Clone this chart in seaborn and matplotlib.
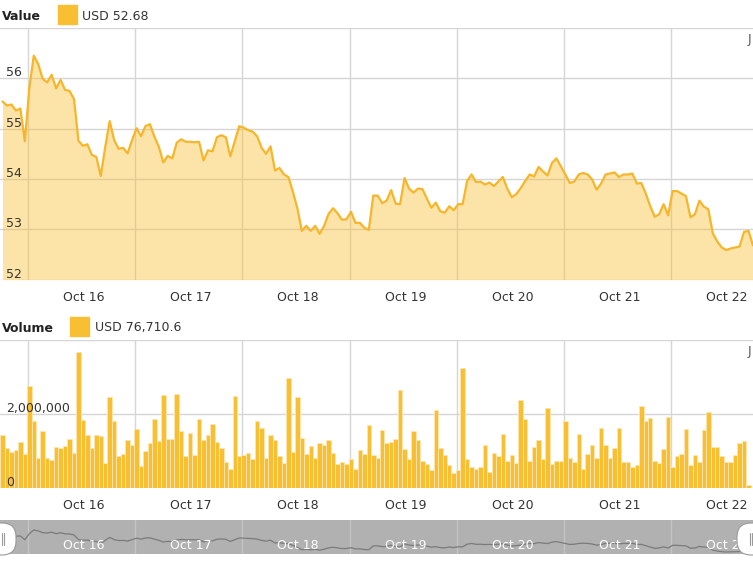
import numpy as np
import pandas as pd
import matplotlib
matplotlib.use('Agg')
import matplotlib.pyplot as plt
import matplotlib.transforms as mtransforms
from matplotlib.patches import Rectangle, FancyBboxPatch
import seaborn as sns

sns.set_style('white')
plt.rcParams['font.family'] = ['DejaVu Sans']

# hourly series, x measured in hours from Oct 16 00:00
start_hour = -5.7
price = [
    55.54, 55.46, 55.48, 55.36, 55.40, 54.75, 55.80, 56.45, 56.28, 55.99,
    55.92, 56.07, 55.80, 55.97, 55.77, 55.75, 55.59, 54.76, 54.66, 54.69,
    54.48, 54.44, 54.06, 54.64, 55.15, 54.77, 54.60, 54.62, 54.51, 54.77,
    55.01, 54.85, 55.05, 55.09, 54.84, 54.64, 54.33, 54.46, 54.41, 54.72,
    54.79, 54.74, 54.74, 54.73, 54.74, 54.37, 54.57, 54.55, 54.83, 54.87,
    54.83, 54.45, 54.75, 55.05, 55.02, 54.97, 54.94, 54.85, 54.62, 54.50,
    54.65, 54.17, 54.22, 54.09, 54.04, 53.75, 53.42, 52.97, 53.07, 52.97,
    53.07, 52.91, 53.07, 53.31, 53.42, 53.32, 53.19, 53.20, 53.35, 53.13,
    53.13, 53.03, 52.99, 53.67, 53.67, 53.52, 53.57, 53.78, 53.51, 53.50,
    54.02, 53.81, 53.73, 53.81, 53.80, 53.61, 53.43, 53.53, 53.36, 53.33,
    53.46, 53.38, 53.50, 53.50, 53.96, 54.09, 53.94, 53.95, 53.89, 53.93,
    53.86, 53.95, 54.04, 53.81, 53.64, 53.70, 53.82, 53.96, 54.09, 54.05,
    54.24, 54.15, 54.07, 54.32, 54.41, 54.25, 54.09, 53.92, 53.95, 54.09,
    54.12, 54.09, 53.99, 53.79, 53.91, 54.09, 54.11, 54.13, 54.04, 54.09,
    54.09, 54.11, 53.91, 53.92, 53.71, 53.46, 53.25, 53.30, 53.50, 53.28,
    53.76, 53.76, 53.71, 53.66, 53.24, 53.30, 53.57, 53.45, 53.40, 52.92,
    52.76, 52.64, 52.59, 52.62, 52.64, 52.66, 52.95, 52.97, 52.68,
]
volume_m = [
    1.42, 1.07, 0.98, 1.01, 1.25, 0.92, 2.75, 1.80, 0.80, 1.53,
    0.80, 0.76, 1.10, 1.07, 1.13, 1.31, 0.95, 3.67, 1.84, 1.44,
    1.07, 1.44, 1.41, 0.68, 2.45, 1.80, 0.86, 0.92, 1.29, 1.17,
    1.59, 0.58, 1.00, 1.22, 1.86, 1.28, 2.51, 1.31, 1.31, 2.53,
    1.53, 0.86, 1.48, 0.89, 1.87, 1.29, 1.44, 1.72, 1.25, 1.07,
    0.71, 0.52, 2.48, 0.86, 0.90, 0.95, 0.77, 1.81, 1.62, 0.80,
    1.42, 1.29, 0.86, 0.68, 2.97, 0.98, 2.45, 1.35, 0.92, 1.14,
    0.80, 1.22, 1.17, 1.29, 0.95, 0.64, 0.71, 0.64, 0.77, 0.52,
    1.01, 0.92, 1.69, 0.89, 0.81, 1.56, 1.22, 1.25, 1.31, 2.66,
    1.04, 0.77, 1.53, 1.29, 0.73, 0.64, 0.49, 2.11, 1.07, 0.89,
    0.62, 0.40, 0.49, 3.24, 0.77, 0.55, 0.52, 0.55, 1.17, 0.43,
    0.95, 0.86, 1.47, 0.73, 0.89, 0.68, 2.38, 1.86, 0.73, 1.10,
    1.29, 0.77, 2.17, 0.64, 0.73, 0.73, 1.80, 0.80, 0.71, 1.47,
    0.52, 0.92, 1.17, 0.80, 1.62, 1.17, 0.80, 1.07, 1.62, 0.71,
    0.71, 0.55, 0.62, 2.23, 1.80, 1.89, 0.73, 0.68, 1.04, 1.93,
    0.55, 0.86, 0.92, 1.58, 0.62, 0.89, 0.71, 1.56, 2.05, 1.10,
    1.10, 0.86, 0.71, 0.71, 0.89, 1.22, 1.26, 0.0767,
]
day_labels = ['Oct 16', 'Oct 17', 'Oct 18', 'Oct 19', 'Oct 20', 'Oct 21', 'Oct 22']
day_starts = [0, 24, 48, 72, 96, 120, 144]
price_ticks = [52, 53, 54, 55, 56]
volume_ticks = [0, 2000000]
last_price = 'USD 52.68'
last_volume = 'USD 76,710.6'

df_p = pd.DataFrame({'hour': start_hour + np.arange(len(price)), 'price': price})
df_v = pd.DataFrame({'hour': start_hour + np.arange(len(volume_m)),
                     'volume': np.array(volume_m) * 1e6})

LINE = '#f7b52a'
BAR = '#f9bf33'
GRID = '#d6d6d6'
TXT = '#333333'
XLIM = (-6.26, 162.3)

W, H = 753, 562
fig = plt.figure(figsize=(W / 100, H / 100), dpi=100)
px = mtransforms.Affine2D().scale(1 / W, 1 / H) + fig.transFigure


def box(x0, y0, x1, y1):
    return [x0 / W, 1 - y1 / H, (x1 - x0) / W, (y1 - y0) / H]


def style_axis(ax, yticks):
    ax.set_xlim(*XLIM)
    ax.set_yticks(yticks)
    ax.set_xticks(day_starts)
    ax.set_xticks([d + 12.5 for d in day_starts], day_labels, minor=True)
    ax.tick_params(axis='both', which='both', length=0)
    ax.tick_params(axis='x', which='major', labelbottom=False)
    ax.tick_params(axis='x', which='minor', pad=8, labelsize=9, labelcolor=TXT)
    ax.tick_params(axis='y', labelleft=False)
    ax.grid(True, which='major', color=GRID, lw=1)
    ax.set_axisbelow(True)
    for s in ax.spines.values():
        s.set_visible(False)
    ax.set_xlabel('')
    ax.set_ylabel('')


# ---- price panel
ax1 = fig.add_axes(box(0, 28, 753, 279.7))
ax1.fill_between(df_p['hour'], df_p['price'], 52, color=BAR, alpha=0.42, lw=0)
sns.lineplot(data=df_p, x='hour', y='price', ax=ax1, color=LINE, lw=1.6)
ax1.set_ylim(52, 57)
style_axis(ax1, price_ticks + [57])
for v in price_ticks:
    ax1.annotate(str(v), xy=(0, v), xycoords=('axes fraction', 'data'),
                 xytext=(4.5, 1.5), textcoords='offset points',
                 ha='left', va='baseline', fontsize=9, color=TXT)

# ---- volume panel
ax2 = fig.add_axes(box(0, 340.3, 753, 487.7))
sns.barplot(data=df_v, x='hour', y='volume', native_scale=True, width=1,
            color=BAR, saturation=1, edgecolor='#fde7b2', linewidth=0.6,
            errorbar=None, ax=ax2)
ax2.set_ylim(0, 4e6)
style_axis(ax2, volume_ticks + [4000000])
for v in volume_ticks:
    ax2.annotate(f'{v:,}', xy=(0, v), xycoords=('axes fraction', 'data'),
                 xytext=(4.5, 1.5), textcoords='offset points',
                 ha='left', va='baseline', fontsize=9, color=TXT)

# ---- navigator
ax3 = fig.add_axes(box(0, 520, 753, 554))
ax3.set_facecolor('#b1b1b1')
for d in day_starts:
    ax3.axvline(d, color='#c3c3c3', lw=1, zorder=0)
sns.lineplot(data=df_p, x='hour', y='price', ax=ax3, color='#7b7b7b', lw=0.9)
ax3.set_xlim(*XLIM)
ax3.set_ylim(52.24, 58.2)
ax3.set_xticks([])
ax3.set_yticks([])
ax3.set_xlabel('')
ax3.set_ylabel('')
for s in ax3.spines.values():
    s.set_visible(False)
for d, lab in zip(day_starts, day_labels):
    ax3.text(d + 12.5, 0.25, lab, transform=ax3.get_xaxis_transform(),
             ha='center', va='center', fontsize=9, color='white')

# navigator handles
for x0, grip in [(-20, 2), (737, 750)]:
    fig.add_artist(FancyBboxPatch((x0, 7), 36, 32, boxstyle='round,pad=0,rounding_size=14',
                                  transform=px, facecolor='white', edgecolor='#9a9a9a', lw=0.8))
    for g in (grip, grip + 2.5):
        fig.add_artist(plt.Line2D([g, g], [17, 29], transform=px, color='#9a9a9a', lw=0.8))

# ---- headers
fig.text(2 / W, 1 - 16 / H, 'Value', fontsize=9, weight='bold', color='#222222', va='center')
fig.add_artist(Rectangle((58, H - 24), 19, 19, transform=px, color=BAR))
fig.text(82 / W, 1 - 16 / H, last_price, fontsize=9, color=TXT, va='center')

fig.text(2 / W, 1 - 328 / H, 'Volume', fontsize=9, weight='bold', color='#222222', va='center')
fig.add_artist(Rectangle((70, H - 336), 19, 19, transform=px, color=BAR))
fig.text(95 / W, 1 - 328 / H, last_volume, fontsize=9, color=TXT, va='center')

for yy in (40, 351):
    fig.text(748 / W, 1 - yy / H, 'J', fontsize=9, color='#555555', va='center')

fig.savefig('out.png', dpi=100)
